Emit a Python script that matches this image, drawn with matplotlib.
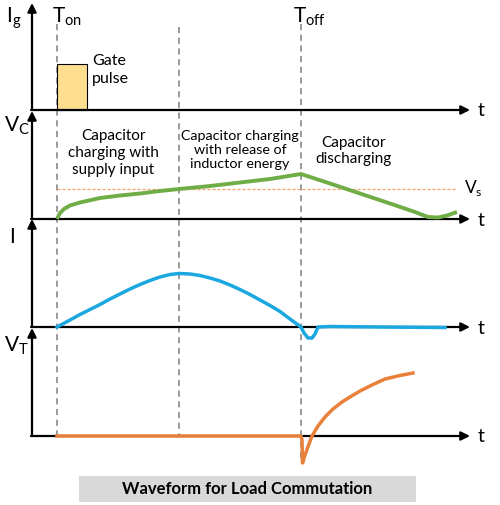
import matplotlib

matplotlib.use("Agg")
import matplotlib.pyplot as plt
from matplotlib.patches import Rectangle

plt.rcParams["font.family"] = ["Lato", "DejaVu Sans"]

# everything is laid out in picture pixels (x right, y down)
t_marks = [57, 179, 301]
baselines = [110, 219, 327, 436]

gate_x = [57, 87]
gate_y = [64, 110]

vc_x = [57, 60, 64, 70, 80, 100, 120, 140, 160, 179, 210, 240, 270, 301,
        330, 360, 390, 415, 428, 438, 447, 457]
vc_y = [219, 213, 209, 205.5, 202.5, 198, 195.5, 193.5, 191, 189, 186, 182.5, 179, 174,
        183.5, 193.5, 203.5, 212, 217, 217.5, 215.5, 212]
vs_level = 189

i_x = [57, 70, 80, 90, 100, 110, 120, 130, 140, 150, 160, 170, 179, 190, 200, 210, 220,
       230, 240, 250, 260, 270, 280, 290, 301,
       304, 308, 312, 315, 318, 330, 380, 445]
i_y = [327, 320, 314.5, 309.5, 304.5, 299, 294, 289, 284.5, 280.5, 277, 274.5, 273.5,
       274, 275.5, 278, 281, 285, 289.5, 294.5, 300, 305.5, 311.5, 319, 327,
       333, 338, 338, 334, 327, 326.5, 327, 327.5]

vt_x = [57, 301, 302, 302.5, 305, 309, 312, 318, 325, 333, 342, 350, 360, 372, 385, 400, 413]
vt_y = [436, 436, 440, 463, 455, 444, 436, 426, 417, 409, 402, 397, 391, 385, 379, 375.5, 373]

fig = plt.figure(figsize=(5.0, 5.05), dpi=100)
ax = fig.add_axes([0, 0, 1, 1])
ax.set_xlim(0, 500)
ax.set_ylim(505, 0)
ax.axis("off")

# dashed time markers
ax.plot([t_marks[0]] * 2, [24, 436], ls=(0, (4, 3)), color="#7f7f7f", lw=1.1)
ax.plot([t_marks[1]] * 2, [27, 436], ls=(0, (4, 3)), color="#7f7f7f", lw=1.1)
ax.plot([t_marks[2]] * 2, [24, 462], ls=(0, (4, 3)), color="#7f7f7f", lw=1.1)

# axes with arrows
arrow = dict(arrowstyle="-|>", color="black", lw=1.6, mutation_scale=13, shrinkA=0, shrinkB=0)
for i, yb in enumerate(baselines):
    ax.annotate("", xy=(470, yb), xytext=(31, yb), arrowprops=arrow)
    ax.annotate("", xy=(32, yb - 108 if i else 3), xytext=(32, yb), arrowprops=arrow)
    ax.text(478, yb + 1, "t", fontsize=14, va="center", ha="left")

# gate pulse
ax.add_patch(Rectangle((gate_x[0], gate_y[0]), gate_x[1] - gate_x[0], gate_y[1] - gate_y[0],
                       facecolor="#ffdf8f", edgecolor="black", lw=0.8, zorder=2))
ax.text(92, 61, "Gate", fontsize=11.5, va="center")
ax.text(92, 79, "pulse", fontsize=11.5, va="center")

# capacitor voltage
ax.plot([57, 455], [vs_level, vs_level], ls=(0, (2.5, 1.5)), color="#f4a46a", lw=0.9)
ax.plot(vc_x, vc_y, color="#70ad47", lw=2.8, solid_capstyle="butt", zorder=3)

# current
ax.plot(i_x, i_y, color="#1ba7e0", lw=2.5, zorder=3)

# thyristor voltage
ax.plot(vt_x, vt_y, color="#e8803a", lw=2.5, zorder=3)

# labels
lab = dict(fontsize=15, va="center", ha="left")
ax.text(6, 18, r"I$_\mathregular{g}$", **lab)
ax.text(52, 17, r"T$_\mathregular{on}$", **lab)
ax.text(293, 17, r"T$_\mathregular{off}$", **lab)
ax.text(4, 126, r"V$_\mathregular{C}$", **lab)
ax.text(9, 237, "I", **lab)
ax.text(4, 346, r"V$_\mathregular{T}$", **lab)
ax.text(464, 188, r"V$_\mathregular{s}$", fontsize=12.5, va="center")

txt = dict(fontsize=11, ha="center", va="center", linespacing=1.25)
ax.text(113, 153, "Capacitor\ncharging with\nsupply input", **txt)
ax.text(240, 150, "Capacitor charging\nwith release of\ninductor energy", fontsize=10.3,
        ha="center", va="center", linespacing=1.2)
ax.text(354, 151, "Capacitor\ndischarging", **txt)

# caption
ax.add_patch(Rectangle((79, 476), 337, 26, facecolor="#d9d9d9", edgecolor="none"))
ax.text(247, 489.5, "Waveform for Load Commutation", fontsize=12, fontweight="bold",
        ha="center", va="center")

fig.savefig("out.png", dpi=100)
